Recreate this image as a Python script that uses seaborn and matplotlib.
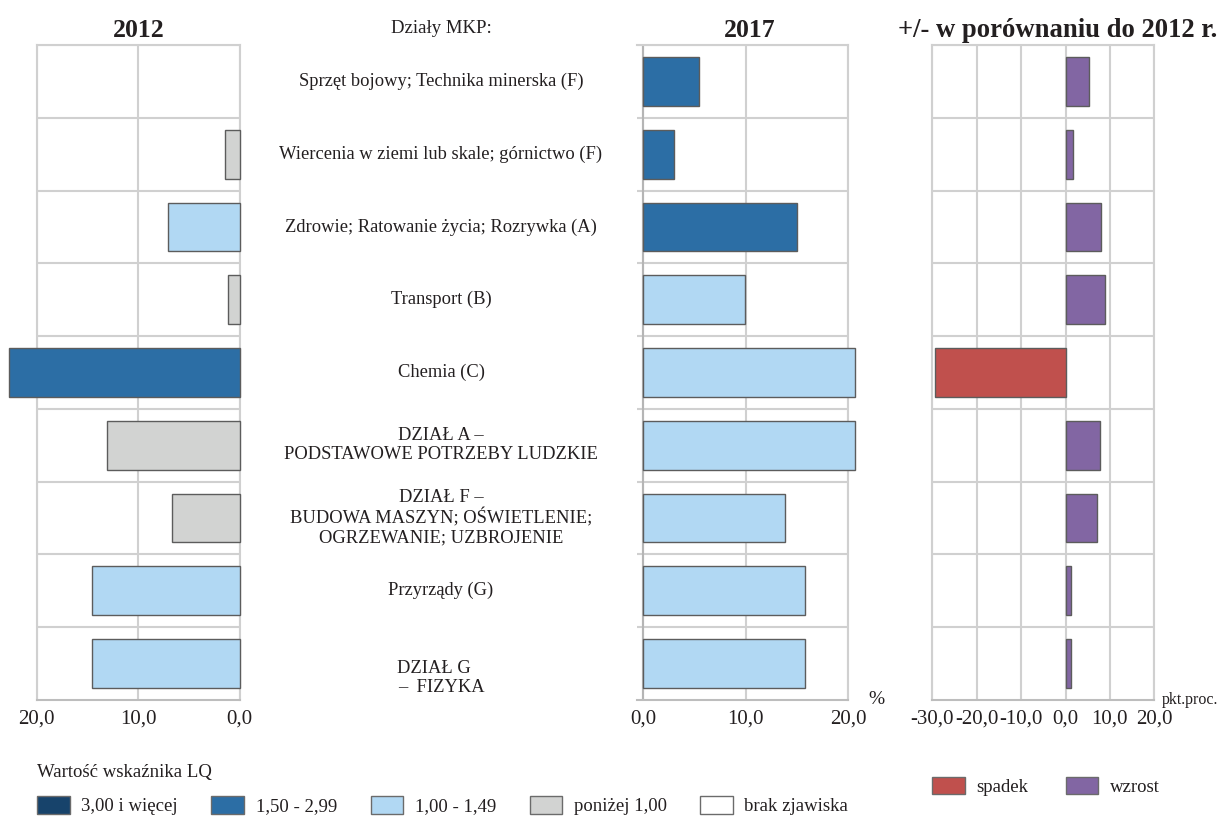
import matplotlib
matplotlib.use("Agg")
import matplotlib.pyplot as plt
import matplotlib.transforms as mtransforms
from matplotlib.patches import Patch
import numpy as np
import pandas as pd
import seaborn as sns

# --- data ---
categories = [
    "Sprzęt bojowy; Technika minerska (F)",
    "Wiercenia w ziemi lub skale; górnictwo (F)",
    "Zdrowie; Ratowanie życia; Rozrywka (A)",
    "Transport (B)",
    "Chemia (C)",
    "DZIAŁ A –\nPODSTAWOWE POTRZEBY LUDZKIE",
    "DZIAŁ F –\nBUDOWA MASZYN; OŚWIETLENIE;\nOGRZEWANIE; UZBROJENIE",
    "Przyrządy (G)",
    "DZIAŁ G   \n–  FIZYKA",
]
share_2012 = [0.0, 1.4, 7.1, 1.1, 22.7, 13.1, 6.7, 14.5, 14.5]
lq_2012 = ["brak zjawiska", "poniżej 1,00", "1,00 - 1,49", "poniżej 1,00", "1,50 - 2,99",
           "poniżej 1,00", "poniżej 1,00", "1,00 - 1,49", "1,00 - 1,49"]
share_2017 = [5.4, 3.0, 15.0, 9.9, 20.7, 20.7, 13.8, 15.8, 15.8]
lq_2017 = ["1,50 - 2,99", "1,50 - 2,99", "1,50 - 2,99", "1,00 - 1,49", "1,00 - 1,49",
           "1,00 - 1,49", "1,00 - 1,49", "1,00 - 1,49", "1,00 - 1,49"]
change = [5.3, 1.6, 8.0, 8.9, -29.4, 7.7, 7.1, 1.3, 1.3]

lq_levels = ["3,00 i więcej", "1,50 - 2,99", "1,00 - 1,49", "poniżej 1,00", "brak zjawiska"]
lq_colors = ["#17436b", "#2c6ea5", "#b1d8f3", "#d2d3d2", "#ffffff"]
change_levels = ["spadek", "wzrost"]
change_colors = ["#c0504d", "#8266a3"]

lq_pal = dict(zip(lq_levels, lq_colors))
ch_pal = dict(zip(change_levels, change_colors))

df12 = pd.DataFrame({"cat": categories, "val": share_2012, "lq": lq_2012})
df17 = pd.DataFrame({"cat": categories, "val": share_2017, "lq": lq_2017})
dfch = pd.DataFrame({"cat": categories, "val": change,
                     "kier": ["spadek" if v < 0 else "wzrost" for v in change]})

sns.set_theme(style="white")
plt.rcParams["font.family"] = ["Liberation Serif", "DejaVu Serif"]
plt.rcParams["text.color"] = "#231f20"
plt.rcParams["xtick.color"] = "#231f20"

W, H = 1224, 822
fig = plt.figure(figsize=(W / 100, H / 100), dpi=100)

def box(x0, x1, y0=45, y1=700):
    return [x0 / W, 1 - y1 / H, (x1 - x0) / W, (y1 - y0) / H]

ax1 = fig.add_axes(box(36.7, 239.5))
ax2 = fig.add_axes(box(636.6, 848.3))
ax3 = fig.add_axes(box(932.3, 1154.3))

grid_c = "#d0d0d0"
edge_c = "#5c5c5c"

def draw(ax, df, hue, pal, order):
    sns.barplot(data=df, x="val", y="cat", hue=hue, palette=pal, hue_order=order,
                order=categories, dodge=False, width=0.67, orient="h", saturation=1,
                legend=False, ax=ax, edgecolor=edge_c, linewidth=1.0, zorder=3)
    for p in ax.patches:
        p.set_clip_on(False)
        if p.get_width() == 0:
            p.set_visible(False)
    ax.set_ylim(8.5, -0.5)
    ax.set_yticks([])
    ax.set_yticks(np.arange(-0.5, 8, 1), minor=True)
    ax.tick_params(axis="y", which="both", length=0)
    ax.grid(which="minor", axis="y", color=grid_c, lw=1.5)
    ax.grid(which="major", axis="x", color=grid_c, lw=1.5)
    ax.set_axisbelow(True)
    ax.set_xlabel("")
    ax.set_ylabel("")
    for s in ax.spines.values():
        s.set_color(grid_c)
        s.set_linewidth(1.5)
    ax.spines["bottom"].set_color("#bdbdbd")
    ax.tick_params(axis="x", length=0, pad=7, labelsize=15)

def fmt(v):
    return f"{v:.1f}".replace(".", ",")

draw(ax1, df12, "lq", lq_pal, lq_levels)
ax1.set_xlim(20, 0)
ax1.set_xticks([20, 10, 0])
ax1.set_xticklabels([fmt(v) for v in [20, 10, 0]])

draw(ax2, df17, "lq", lq_pal, lq_levels)
ax2.set_xlim(-0.65, 20)
ax2.set_xticks([0, 10, 20])
ax2.set_xticklabels([fmt(v) for v in [0, 10, 20]])
ax2.spines["left"].set_visible(False)
ax2.axvline(0, color="#b5b5b5", lw=1.5, zorder=2)

draw(ax3, dfch, "kier", ch_pal, change_levels)
ax3.set_xlim(-30, 20)
ax3.set_xticks([-30, -20, -10, 0, 10, 20])
ax3.set_xticklabels([fmt(v) for v in [-30, -20, -10, 0, 10, 20]])

# category labels in the middle column
tr = mtransforms.blended_transform_factory(fig.transFigure, ax2.transData)
for i, c in enumerate(categories):
    dy = 0.2 if c.startswith("DZIAŁ G") else 0.0
    fig.text(441 / W, i + dy, c, transform=tr, ha="center", va="center",
             fontsize=13.3, linespacing=1.15, multialignment="center")

# headers
fig.text(139 / W, 1 - 37 / H, "2012", ha="center", va="baseline", fontsize=18.5, fontweight="bold")
fig.text(750 / W, 1 - 37 / H, "2017", ha="center", va="baseline", fontsize=18.5, fontweight="bold")
fig.text(1058 / W, 1 - 37 / H, "+/- w porównaniu do 2012 r.", ha="center", va="baseline",
         fontsize=19.2, fontweight="bold")
fig.text(441 / W, 1 - 33 / H, "Działy MKP:", ha="center", va="baseline", fontsize=13.5)
fig.text(876 / W, 1 - 700 / H, "%", ha="center", va="center", fontsize=14)
fig.text(1162 / W, 1 - 700 / H, "pkt.proc.", ha="left", va="center", fontsize=11.5)

# legends
lq_handles = [Patch(facecolor=c, edgecolor="#6b6b6b", lw=1.0, label=l)
              for l, c in zip(lq_levels, lq_colors)]
leg1 = fig.legend(handles=lq_handles, loc="upper left", bbox_to_anchor=(37 / W, 1 - 764 / H),
                  ncol=5, frameon=False, fontsize=13.5, title="Wartość wskaźnika LQ",
                  title_fontsize=13.5, alignment="left", handlelength=1.75, handleheight=1.05,
                  handletextpad=0.6, columnspacing=1.8, borderpad=0, borderaxespad=0)
leg1._legend_box.sep = 11

ch_handles = [Patch(facecolor=c, edgecolor="#6b6b6b", lw=1.0, label=l)
              for l, c in zip(change_levels, change_colors)]
fig.legend(handles=ch_handles, loc="upper left", bbox_to_anchor=(932 / W, 1 - 777 / H),
           ncol=2, frameon=False, fontsize=13.5, handlelength=1.75, handleheight=1.05,
           handletextpad=0.6, columnspacing=2.0, borderpad=0, borderaxespad=0)

fig.savefig("out.png", dpi=100)
